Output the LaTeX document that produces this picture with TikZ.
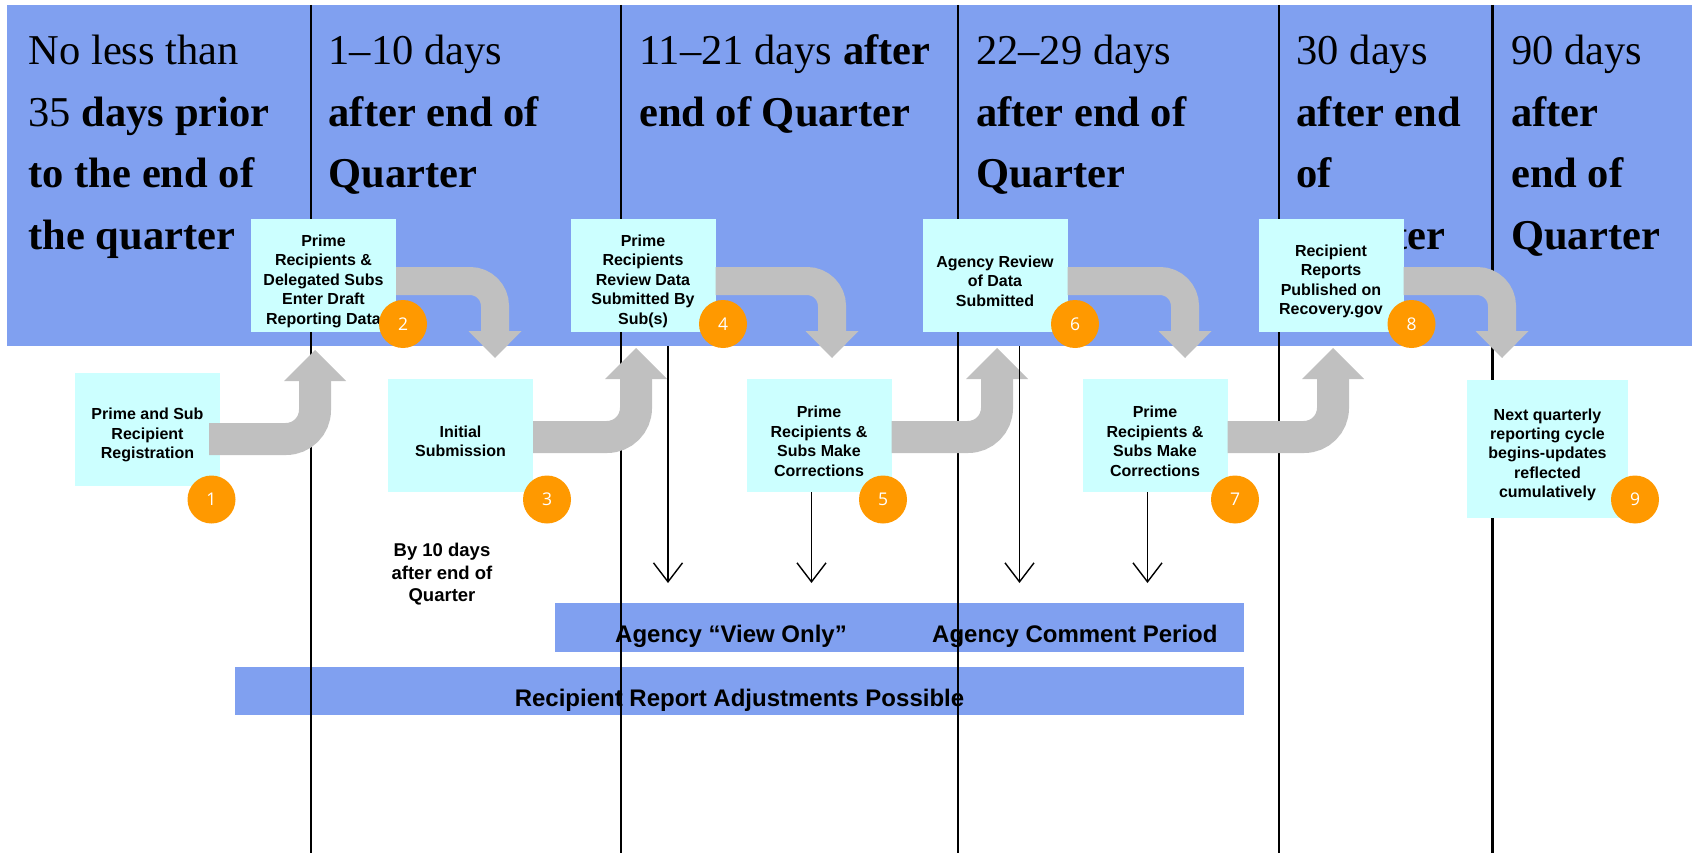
\documentclass[tikz,border=0pt]{standalone}
\usepackage{fontspec}
\setmainfont{Liberation Serif}
\newfontfamily\arialf{Liberation Sans}
\newfontfamily\numf{Open Sans}
\usetikzlibrary{arrows.meta,calc}
\definecolor{bandblue}{RGB}{128,160,240}
\definecolor{boxcyan}{RGB}{204,255,255}
\definecolor{dotorange}{RGB}{255,153,0}
\definecolor{arrowgray}{RGB}{192,192,192}
\newcommand\tstrut{\rule{0pt}{23pt}}
\begin{document}
\begin{tikzpicture}[x=1pt,y=-1pt,
  bandrect/.style={fill=bandblue, inner sep=0pt},
  hdr/.style={anchor=base west, inner sep=0pt, font=\fontsize{42.5}{61.5}\selectfont},
  stepbox/.style={fill=boxcyan, minimum width=145pt, minimum height=113pt, inner sep=0pt,
    align=center, font=\arialf\bfseries\fontsize{16}{19.4}\selectfont},
  numdot/.style={circle, fill=dotorange, minimum size=48pt, inner sep=0pt, text=white,
    font=\numf\fontsize{17.5}{20}\selectfont},
  bandtext/.style={inner sep=0pt, anchor=base, font=\arialf\bfseries\fontsize{24}{28}\selectfont},
  notetext/.style={inner sep=0pt, align=center, anchor=base,
    font=\arialf\bfseries\fontsize{18.5}{22.5}\selectfont},
  colline/.style={draw=black, line width=2.2pt},
  thinarrow/.style={draw=black, line width=1.4pt, -{Straight Barb[length=19pt,width=29pt,line width=1.4pt]}},
  garrowT/.style={draw=arrowgray, line width=28pt, rounded corners=25pt,
    -{Triangle[length=27pt,width=53pt,line width=0pt]}},
  garrowB/.style={draw=arrowgray, line width=32pt, rounded corners=29pt,
    -{Triangle[length=31pt,width=62pt,line width=0pt]}}
]
\useasboundingbox (0,0) rectangle (1692,853);
\fill[white] (0,0) rectangle (1692,853);

% top band
\node[bandrect, minimum width=1685pt, minimum height=341pt] (band) at (849.5,175.5) {};

% headers
\node[hdr] (h1) at (28.5,65) {\vtop{\hbox{No less than}\hbox{35 \textbf{days prior}}\hbox{\textbf{to the end of}}\hbox{\textbf{the quarter}}}};
\node[hdr] (h2) at (328.5,65) {\vtop{\hbox{1\textendash10 days}\hbox{\textbf{after end of}}\hbox{\textbf{Quarter}}}};
\node[hdr] (h3) at (639,65) {\vtop{\hbox{11\textendash21 days \textbf{after}}\hbox{\textbf{end of Quarter}}}};
\node[hdr] (h4) at (976,65) {\vtop{\hbox{22\textendash29 days}\hbox{\textbf{after end of}}\hbox{\textbf{Quarter}}}};
\node[hdr] (h5) at (1296.5,65) {\vtop{\hbox{30 days}\hbox{\textbf{after end}}\hbox{\textbf{of}}\hbox{\textbf{Quarter}}}};
\node[hdr] (h6) at (1511,65) {\vtop{\hbox{90 days}\hbox{\textbf{after}}\hbox{\textbf{end of}}\hbox{\textbf{Quarter}}}};

% bottom bands
\node[bandrect, minimum width=689pt, minimum height=49pt] (agband) at (899.5,627.5) {};
\node[bandtext, anchor=base west] (agview) at (615,642) {Agency “View Only”};
\node[bandtext, anchor=base west] (agcomm) at (932,642) {Agency Comment Period};
\node[bandrect, minimum width=1009pt, minimum height=48pt] (adjband) at (739.5,691) {};
\node[bandtext] (adjtext) at (739.5,706) {Recipient Report Adjustments Possible};

% column lines
\foreach \cx in {311,621,958,1279,1492.5}
  \draw[colline] (\cx,5) -- (\cx,853);

% step boxes
\node[stepbox] (b1) at (147.5,429.5) {\tstrut Prime and Sub\\Recipient\\Registration};
\node[stepbox] (b2) at (323.5,275.5) {\tstrut Prime\\Recipients \&\\Delegated Subs\\Enter Draft\\Reporting Data};
\node[stepbox] (b3) at (460.5,435.5) {\tstrut Initial\\Submission};
\node[stepbox] (b4) at (643,275.5) {\tstrut Prime\\Recipients\\Review Data\\Submitted By\\Sub(s)};
\node[stepbox] (b5) at (819,435.5) {\tstrut Prime\\Recipients \&\\Subs Make\\Corrections};
\node[stepbox] (b6) at (995,275.5) {\tstrut Agency Review\\of Data\\Submitted};
\node[stepbox] (b7) at (1155,435.5) {\tstrut Prime\\Recipients \&\\Subs Make\\Corrections};
\node[stepbox] (b8) at (1331,275.5) {\tstrut Recipient\\Reports\\Published on\\Recovery.gov};
\node[stepbox, minimum width=161pt, minimum height=138pt] (b9) at (1547.5,449) {\tstrut Next quarterly\\reporting cycle\\begins-updates\\reflected\\cumulatively};

% arrow end points
\coordinate (g1) at (315,350);
\coordinate (g2) at (495,358);
\coordinate (g3) at (636,348);
\coordinate (g4) at (832,358);
\coordinate (g5) at (997,348);
\coordinate (g6) at (1185,358);
\coordinate (g7) at (1333,348);
\coordinate (g8) at (1502,358);

% gray bent arrows
\draw[garrowB] ($(b1.east)+(-11,9.5)$) -| (g1);
\draw[garrowT] ($(b2.east)+(0,5.5)$) -| (g2);
\draw[garrowB] ($(b3.east)+(0,1.5)$) -| (g3);
\draw[garrowT] ($(b4.east)+(0,5.5)$) -| (g4);
\draw[garrowB] ($(b5.east)+(0,1.5)$) -| (g5);
\draw[garrowT] ($(b6.east)+(0,5.5)$) -| (g6);
\draw[garrowB] ($(b7.east)+(0,1.5)$) -| (g7);
\draw[garrowT] ($(b8.east)+(0,5.5)$) -| (g8);

% numbered dots
\node[numdot] (n1) at (211.5,499.5) {1};
\node[numdot] (n2) at (403,324) {2};
\node[numdot] (n3) at (547,499.5) {3};
\node[numdot] (n4) at (723,324) {4};
\node[numdot] (n5) at (883,499.5) {5};
\node[numdot] (n6) at (1075,324) {6};
\node[numdot] (n7) at (1235,499.5) {7};
\node[numdot] (n8) at (1411.5,324) {8};
\node[numdot] (n9) at (1635,499.5) {9};

% thin arrows
\coordinate (t4) at (668,583);
\coordinate (t5) at (811.5,583);
\coordinate (t6) at (1019.5,583);
\coordinate (t7) at (1147.5,583);
\draw[thinarrow] (band.south -| t4) -- (t4);
\draw[thinarrow] (b5.south -| t5) -- (t5);
\draw[thinarrow] (band.south -| t6) -- (t6);
\draw[thinarrow] (b7.south -| t7) -- (t7);

% note
\node[notetext] (note) at (442,601.5) {By 10 days\\after end of\\Quarter};
\end{tikzpicture}
\end{document}
